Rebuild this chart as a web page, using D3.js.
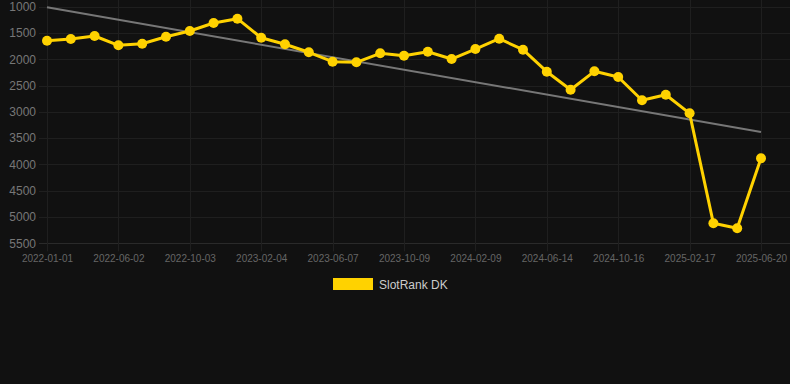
<!DOCTYPE html>
<html>
<head>
<meta charset="utf-8">
<script src="https://cdn.jsdelivr.net/npm/d3@7"></script>
<style>
  html, body { margin: 0; padding: 0; background: #111111; }
  svg { display: block; font-family: Arial, "Liberation Sans", Helvetica, sans-serif; }
</style>
</head>
<body>
<div class="chart"></div>
<script>
const dates = [
    '2022-01-01', '2022-02-11', '2022-03-24', '2022-06-02', '2022-07-12', '2022-08-23',
    '2022-10-03', '2022-11-13', '2022-12-25', '2023-02-04', '2023-03-17', '2023-04-27',
    '2023-06-07', '2023-07-18', '2023-08-28', '2023-10-09', '2023-11-19', '2023-12-30',
    '2024-02-09', '2024-03-21', '2024-05-02', '2024-06-14', '2024-07-25', '2024-09-04',
    '2024-10-16', '2024-11-26', '2025-01-06', '2025-02-17', '2025-03-30', '2025-05-10',
    '2025-06-20'
];
const ranks = [
    1647, 1614, 1557, 1734, 1704, 1571, 1462, 1310, 1228, 1590, 1715, 1867,
    2046, 2058, 1886, 1932, 1856, 1995, 1805, 1609, 1818, 2236, 2579, 2229,
    2337, 2780, 2674, 3028, 5120, 5215, 3883
];
// trend line, first and last point
const trendDates = ['2022-01-01', '2025-06-20'];
const trendValues = [1011, 3383];
const yTicks = [1000, 1500, 2000, 2500, 3000, 3500, 4000, 4500, 5000, 5500];
const xTickLabels = dates.filter((_, i) => i % 3 === 0);
const seriesName = 'SlotRank DK';

const chartW = 790;
const chartH = 384;
const plotLeft = 47;
const plotRight = 761;
const gridRight = 790;
const plotTop = 6.7;
const plotBottom = 243.3;
const gold = '#ffd200';

const svg = d3.select('.chart').append('svg')
    .attr('width', chartW)
    .attr('height', chartH);

svg.append('rect')
    .attr('width', chartW)
    .attr('height', chartH)
    .attr('fill', '#111111');

const x = d3.scalePoint()
    .domain(dates)
    .range([plotLeft, plotRight]);
const y = d3.scaleLinear()
    .domain([1000, 5500])
    .range([plotTop, plotBottom]);

// 网格线
svg.append('g')
    .selectAll('line')
    .data(yTicks)
    .enter()
    .append('line')
    .attr('x1', plotLeft - 8)
    .attr('x2', gridRight)
    .attr('y1', d => Math.round(y(d)) + 0.5)
    .attr('y2', d => Math.round(y(d)) + 0.5)
    .attr('stroke', (d) => d === 5500 ? '#2a2a2a' : '#1f1f1f');

svg.append('g')
    .selectAll('line')
    .data(xTickLabels)
    .enter()
    .append('line')
    .attr('x1', d => Math.round(x(d)) + 0.5)
    .attr('x2', d => Math.round(x(d)) + 0.5)
    .attr('y1', 0)
    .attr('y2', plotBottom + 8)
    .attr('stroke', '#1f1f1f');

// 坐标轴文字
const yAxis = svg.append('g')
    .attr('transform', `translate(${plotLeft}, 0)`)
    .call(d3.axisLeft(y).tickValues(yTicks).tickSize(8).tickPadding(3).tickFormat(d3.format('d')));
yAxis.select('.domain').remove();
yAxis.selectAll('line').remove();
yAxis.selectAll('text')
    .attr('fill', '#777')
    .style('font-size', '12px');

const xAxis = svg.append('g')
    .attr('transform', `translate(0, ${plotBottom})`)
    .call(d3.axisBottom(x).tickValues(xTickLabels).tickSize(8).tickPadding(4));
xAxis.select('.domain').remove();
xAxis.selectAll('line').remove();
xAxis.selectAll('text')
    .attr('fill', '#666')
    .style('font-size', '10px');

// 趋势线
svg.append('path')
    .datum(trendValues)
    .attr('d', d3.line()
        .x((_, i) => x(trendDates[i]))
        .y(d => y(d)))
    .attr('fill', 'none')
    .attr('stroke', '#777')
    .attr('stroke-width', 2);

// 折线
svg.append('path')
    .datum(ranks)
    .attr('d', d3.line()
        .x((_, i) => x(dates[i]))
        .y(d => y(d)))
    .attr('fill', 'none')
    .attr('stroke', gold)
    .attr('stroke-width', 3)
    .attr('stroke-linejoin', 'round');

svg.append('g')
    .selectAll('circle')
    .data(ranks)
    .enter()
    .append('circle')
    .attr('cx', (_, i) => x(dates[i]))
    .attr('cy', d => y(d))
    .attr('r', 5)
    .attr('fill', gold);

// 图例
const legend = svg.append('g')
    .attr('transform', 'translate(333, 278)');
legend.append('rect')
    .attr('width', 40)
    .attr('height', 12)
    .attr('fill', gold);
legend.append('text')
    .attr('x', 46)
    .attr('y', 10.5)
    .attr('fill', '#cccccc')
    .style('font-size', '12px')
    .text(seriesName);
</script>
</body>
</html>
